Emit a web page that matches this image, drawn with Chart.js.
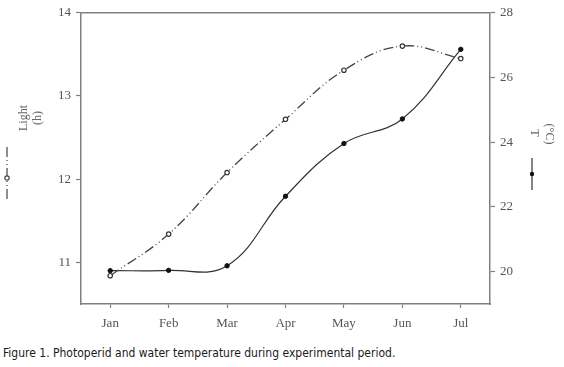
<!doctype html>
<html>
<head>
    <meta charset="utf-8" />
    <title>Photoperiod and temperature</title>
    <script src="https://cdn.jsdelivr.net/npm/chart.js@4.4.1/dist/chart.umd.min.js"></script>
    <style>
        body { margin: 0; background: #fff; width: 564px; height: 367px; overflow: hidden; }
        #kast { position: absolute; left: 0; top: 0; width: 564px; height: 335px; }
        #allkiri { position: absolute; left: 3px; top: 346px; font: 12px "Liberation Sans Narrow", "DejaVu Sans Condensed", sans-serif; color: #1a1a1a; white-space: nowrap; }
    </style>
</head>
<body>
    <div id="kast"><canvas id="joonis"></canvas></div>
    <div id="allkiri">Figure 1. Photoperid and water temperature during experimental period.</div>
    <script>
        const kuud = ['Jan', 'Feb', 'Mar', 'Apr', 'May', 'Jun', 'Jul'];
        const valgus = [10.84, 11.34, 12.08, 12.72, 13.31, 13.60, 13.45];
        const temperatuur = [20.03, 20.04, 20.18, 22.33, 23.96, 24.72, 26.87];
        const valgusTicks = [11, 12, 13, 14];
        const tempTicks = [20, 22, 24, 26, 28];

        const halli = '#808080';
        const serif = { family: 'Liberation Serif', size: 13 };

        // raam, telgede pealkirjad ja väikesed legendimärgid
        const lisad = {
            id: 'lisad',
            afterDraw(chart) {
                const c = chart.ctx;
                const a = chart.chartArea;
                c.save();
                c.strokeStyle = halli;
                c.lineWidth = 1.5;
                c.beginPath();
                c.moveTo(a.left, a.top);
                c.lineTo(a.right, a.top);
                c.stroke();

                c.fillStyle = '#666';
                c.font = '12px "Liberation Serif"';
                c.textAlign = 'center';
                c.textBaseline = 'middle';
                // vasak pealkiri
                c.save();
                c.translate(24, 118);
                c.rotate(-Math.PI / 2);
                c.fillText('Light', 0, 0);
                c.restore();
                c.save();
                c.translate(38, 118);
                c.rotate(-Math.PI / 2);
                c.fillText('(h)', 0, 0);
                c.restore();
                // parem pealkiri
                c.save();
                c.translate(534, 133);
                c.rotate(Math.PI / 2);
                c.fillText('T', 0, 0);
                c.restore();
                c.save();
                c.translate(549, 134);
                c.rotate(Math.PI / 2);
                c.fillText('(°C)', 0, 0);
                c.restore();

                // vasak märk: kriips-punkt-punkt ja tühi ring
                c.strokeStyle = '#444';
                c.lineWidth = 1.2;
                c.setLineDash([10, 3, 1, 3, 1, 3]);
                c.beginPath();
                c.moveTo(7, 147);
                c.lineTo(7, 201);
                c.stroke();
                c.setLineDash([]);
                c.fillStyle = '#fff';
                c.beginPath();
                c.arc(7, 178, 2.2, 0, Math.PI * 2);
                c.fill();
                c.stroke();
                // parem märk: joon ja täidetud punkt
                c.strokeStyle = '#333';
                c.beginPath();
                c.moveTo(532, 158);
                c.lineTo(532, 190);
                c.stroke();
                c.fillStyle = '#111';
                c.beginPath();
                c.arc(532, 174, 2.2, 0, Math.PI * 2);
                c.fill();
                c.restore();
            }
        };

        new Chart(document.getElementById('joonis'), {
            type: 'line',
            data: {
                labels: kuud,
                datasets: [
                    {
                        label: 'Light (h)',
                        data: valgus,
                        yAxisID: 'y',
                        borderColor: '#444',
                        borderWidth: 1.3,
                        borderDash: [10, 3, 1, 3, 1, 3],
                        tension: 0.4,
                        pointRadius: 2.2,
                        pointBorderWidth: 1.2,
                        pointBackgroundColor: '#fff',
                        pointBorderColor: '#333'
                    },
                    {
                        label: 'T (°C)',
                        data: temperatuur,
                        yAxisID: 'y1',
                        borderColor: '#333',
                        borderWidth: 1.2,
                        tension: 0.4,
                        pointRadius: 2.2,
                        pointBorderWidth: 1,
                        pointBackgroundColor: '#111',
                        pointBorderColor: '#111'
                    }
                ]
            },
            options: {
                responsive: true,
                maintainAspectRatio: false,
                animation: false,
                layout: { padding: { top: 11, left: 0, right: 0, bottom: 0 } },
                plugins: { legend: { display: false }, tooltip: { enabled: false } },
                scales: {
                    x: {
                        offset: true,
                        grid: { offset: false, drawOnChartArea: false, tickLength: 4, tickColor: halli, tickWidth: 1.2 },
                        border: { color: halli, width: 1.5 },
                        ticks: { font: serif, color: '#555', padding: 8, maxRotation: 0 },
                        afterFit(s) { s.height = 31; }
                    },
                    y: {
                        position: 'left',
                        min: 10.5,
                        max: 14,
                        afterBuildTicks(s) { s.ticks = valgusTicks.map(v => ({ value: v })); },
                        grid: { drawOnChartArea: false, tickLength: 5, tickColor: halli, tickWidth: 1.2 },
                        border: { color: halli, width: 1.5 },
                        ticks: { font: serif, color: '#555', padding: 5 },
                        afterFit(s) { s.width = 81; }
                    },
                    y1: {
                        position: 'right',
                        min: 19,
                        max: 28,
                        afterBuildTicks(s) { s.ticks = tempTicks.map(v => ({ value: v })); },
                        grid: { drawOnChartArea: false, tickLength: 5, tickColor: halli, tickWidth: 1.2 },
                        border: { color: halli, width: 1.5 },
                        ticks: { font: serif, color: '#555', padding: 5 },
                        afterFit(s) { s.width = 74; }
                    }
                }
            },
            plugins: [lisad]
        });
    </script>
</body>
</html>
